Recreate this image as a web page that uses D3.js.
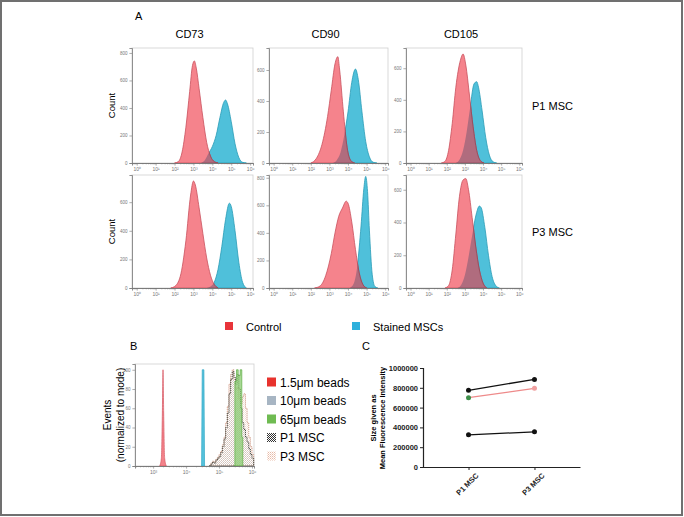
<!DOCTYPE html>
<html>
<head>
<meta charset="utf-8">
<script src="https://cdn.jsdelivr.net/npm/d3@7"></script>
<style>
  body { margin: 0; background: #fff; }
  text { font-family: "Liberation Sans", Arial, sans-serif; }
</style>
</head>
<body>
<div id="mount"></div>
<script>
'use strict';

// ---- data ----
const markers = ['CD73', 'CD90', 'CD105'];
const passages = ['P1 MSC', 'P3 MSC'];
const decadeTicks = [0, 1, 2, 3, 4, 5, 6];
const countTicks = [0, 200, 400, 600, 800];
// top of the count axis for each histogram, rows = passages, cols = markers
const countMax = [[836, 742, 728], [790, 820, 690]];

// [log10 intensity, count]
const cd73P1Control = [[2.0,0],[2.2,10],[2.4,80],[2.6,260],[2.8,520],[2.95,710],[3.05,742],[3.15,690],[3.3,540],[3.5,330],[3.7,150],[3.9,50],[4.1,10],[4.3,0]];
const cd73P1Stained = [[3.4,0],[3.6,20],[3.8,70],[4.0,120],[4.2,200],[4.4,330],[4.6,440],[4.7,458],[4.8,430],[5.0,300],[5.2,140],[5.4,40],[5.6,5],[5.8,0]];
const cd90P1Control = [[2.0,0],[2.3,30],[2.6,120],[2.9,300],[3.1,470],[3.3,640],[3.45,686],[3.55,600],[3.75,330],[3.95,100],[4.15,15],[4.35,0]];
const cd90P1Stained = [[3.2,0],[3.4,20],[3.6,70],[3.8,180],[4.0,330],[4.2,520],[4.4,606],[4.55,540],[4.75,330],[4.95,140],[5.15,40],[5.35,5],[5.55,0]];
const cd105P1Control = [[1.7,0],[1.9,10],[2.1,80],[2.3,250],[2.5,480],[2.75,650],[2.9,690],[3.05,620],[3.25,430],[3.45,230],[3.65,80],[3.85,15],[4.05,0]];
const cd105P1Stained = [[2.5,0],[2.7,20],[2.9,80],[3.1,200],[3.3,360],[3.5,500],[3.65,515],[3.75,480],[3.95,330],[4.15,160],[4.35,50],[4.55,8],[4.75,0]];
const cd73P3Control = [[1.8,0],[2.0,10],[2.3,80],[2.6,330],[2.85,650],[3.0,748],[3.1,720],[3.3,560],[3.5,380],[3.7,210],[3.9,90],[4.1,25],[4.3,0]];
const cd73P3Stained = [[3.7,0],[3.9,10],[4.1,40],[4.3,130],[4.5,290],[4.7,480],[4.9,593],[5.0,570],[5.2,400],[5.4,180],[5.6,40],[5.8,0]];
const cd90P3Control = [[2.2,0],[2.5,15],[2.8,90],[3.1,250],[3.3,400],[3.5,520],[3.7,580],[3.9,630],[4.0,615],[4.2,480],[4.4,280],[4.6,110],[4.8,25],[5.0,0]];
const cd90P3Stained = [[4.1,0],[4.3,30],[4.5,160],[4.7,450],[4.85,720],[4.95,810],[5.05,700],[5.15,420],[5.3,100],[5.45,10],[5.6,0]];
const cd105P3Control = [[1.9,0],[2.1,15],[2.3,110],[2.5,330],[2.7,560],[2.9,660],[3.05,668],[3.2,600],[3.4,430],[3.6,250],[3.8,110],[4.0,30],[4.2,0]];
const cd105P3Stained = [[2.6,0],[2.8,20],[3.0,80],[3.2,190],[3.4,320],[3.6,440],[3.8,500],[3.9,490],[4.1,370],[4.3,200],[4.5,70],[4.7,15],[4.9,0]];

const controls = [[cd73P1Control, cd90P1Control, cd105P1Control], [cd73P3Control, cd90P3Control, cd105P3Control]];
const stained = [[cd73P1Stained, cd90P1Stained, cd105P1Stained], [cd73P3Stained, cd90P3Stained, cd105P3Stained]];

// panel B: [log10 intensity, % of mode]
const beadsTicks = [3, 4, 5, 6];
const eventTicks = [0, 20, 40, 60, 80, 100];
const beads15 = [[3.2,0],[3.25,8],[3.28,55],[3.3,100],[3.32,55],[3.35,8],[3.4,0]];
const beads10 = [[4.47,0],[4.49,100],[4.54,100],[4.56,0]];
const beads65 = [[5.44,0],[5.48,88],[5.53,100],[5.58,94],[5.64,100],[5.69,30],[5.72,0]];
const p1Msc = [[4.7,0],[4.75,2],[4.8,4],[4.85,3],[4.9,6],[4.95,8],[5.0,10],[5.05,14],[5.1,20],[5.15,28],[5.2,40],[5.25,55],[5.3,75],[5.35,90],[5.4,98],[5.45,92],[5.5,85],[5.55,95],[5.6,80],[5.65,60],[5.7,45],[5.75,38],[5.8,30],[5.85,25],[5.9,18],[5.95,12],[6.0,8],[6.05,5]];
const p3Msc = [[4.7,0],[4.75,3],[4.8,5],[4.85,4],[4.9,7],[4.95,9],[5.0,12],[5.05,15],[5.1,22],[5.15,30],[5.2,45],[5.25,62],[5.3,85],[5.35,95],[5.4,100],[5.45,90],[5.5,80],[5.55,82],[5.6,70],[5.65,65],[5.7,72],[5.75,75],[5.8,60],[5.85,45],[5.9,30],[5.95,20],[6.0,12],[6.05,6]];
const beadsLegend = ['1.5\u03bcm beads', '10\u03bcm beads', '65\u03bcm beads', 'P1 MSC', 'P3 MSC'];

// panel C
const mfiCategories = ['P1 MSC', 'P3 MSC'];
const mfiTicks = [0, 200000, 400000, 600000, 800000, 1000000];
const mfiHigh = [775000, 885000];
const mfiMid = [700000, 795000];
const mfiLow = [325000, 355000];

// ---- drawing ----
const sup = ['\u2070', '\u00b9', '\u00b2', '\u00b3', '\u2074', '\u2075', '\u2076'];
const pow = e => Math.pow(10, e);

const svg = d3.select('#mount').append('svg')
    .attr('width', 684)
    .attr('height', 517);

svg.append('rect')
    .attr('x', 1).attr('y', 1).attr('width', 681).attr('height', 514)
    .attr('fill', 'none').attr('stroke', '#707070').attr('stroke-width', 2);

const defs = svg.append('defs');

function styleAxis(a, size) {
  a.select('.domain').attr('stroke', '#777').attr('stroke-width', 0.8);
  a.selectAll('.tick line').attr('stroke', '#777').attr('stroke-width', 0.6);
  a.selectAll('.tick text').attr('fill', '#777').style('font-size', size + 'px');
}

function frame(g, w, h) {
  g.append('rect').attr('width', w).attr('height', h)
      .attr('fill', 'none').attr('stroke', '#cfcfcf').attr('stroke-width', 0.8);
}

// log x axis with decade labels and minor ticks
function logAxis(g, x, h, exps) {
  const [lo, hi] = x.domain();
  const minor = [];
  for (let e = Math.floor(Math.log10(lo)); e <= Math.ceil(Math.log10(hi)); e++) {
    for (let k = 2; k < 10; k++) {
      const v = k * pow(e);
      if (v >= lo && v <= hi) minor.push(v);
    }
  }
  g.append('g')
      .attr('transform', `translate(0,${h})`)
      .call(d3.axisBottom(x).tickValues(minor).tickSize(1.3).tickFormat(''))
      .call(a => styleAxis(a, 5));
  g.append('g')
      .attr('transform', `translate(0,${h})`)
      .call(d3.axisBottom(x).tickValues(exps.map(pow)).tickSize(2.6).tickPadding(1.5)
        .tickFormat(d => '10' + sup[Math.round(Math.log10(d))]))
      .call(a => styleAxis(a, 5));
}

// ---- panel A ----
const colsA = [{ x: 132, w: 121 }, { x: 269, w: 119 }, { x: 406, w: 116 }];
const rowsA = [{ y: 48, h: 115 }, { y: 175, h: 113 }];

svg.append('text').attr('x', 135).attr('y', 20).text('A')
    .style('font-size', '11px');

markers.forEach((m, c) => {
  svg.append('text')
      .attr('x', colsA[c].x + colsA[c].w / 2 - 3)
      .attr('y', 38)
      .attr('text-anchor', 'middle')
      .style('font-size', '11px')
      .text(m);
});

passages.forEach((p, r) => {
  svg.append('text')
      .attr('x', 532)
      .attr('y', rowsA[r].y + rowsA[r].h / 2 + 4)
      .style('font-size', '11px')
      .text(p);
  svg.append('text')
      .attr('transform', `translate(115,${rowsA[r].y + rowsA[r].h / 2}) rotate(-90)`)
      .attr('text-anchor', 'middle')
      .style('font-size', '9.5px')
      .text('Count');
});

let clipId = 0;
passages.forEach((p, r) => {
  markers.forEach((m, c) => {
    const { x: x0, w } = colsA[c];
    const { y: y0, h } = rowsA[r];
    const g = svg.append('g').attr('transform', `translate(${x0},${y0})`);

    const x = d3.scaleLog().domain([pow(-0.25), pow(6.15)]).range([0, w]);
    const y = d3.scaleLinear().domain([0, countMax[r][c]]).range([h, 0]);
    const area = d3.area()
        .x(d => x(pow(d[0])))
        .y0(y(0))
        .y1(d => y(d[1]))
        .curve(d3.curveMonotoneX);

    frame(g, w, h);

    // overlap of control and stained is drawn in a darker mauve
    const id = 'blue' + (clipId++);
    defs.append('clipPath').attr('id', id)
        .append('path').attr('d', area(stained[r][c]))
        .attr('transform', `translate(${x0},${y0})`);

    g.append('path').attr('d', area(stained[r][c]))
        .attr('fill', '#4fc0da').attr('stroke', '#2a9cb6').attr('stroke-width', 0.8);
    g.append('path').attr('d', area(controls[r][c]))
        .attr('fill', '#f5838c').attr('stroke', '#c9515d').attr('stroke-width', 0.8);
    svg.append('g').attr('clip-path', `url(#${id})`)
      .append('path').attr('transform', `translate(${x0},${y0})`)
        .attr('d', area(controls[r][c]))
        .attr('fill', '#b06c7e').attr('stroke', '#8e4a5a').attr('stroke-width', 0.8);

    g.append('g')
        .call(d3.axisLeft(y).tickValues(countTicks.filter(t => t <= countMax[r][c]))
          .tickSize(2.6).tickPadding(2))
        .call(a => styleAxis(a, 4.5));
    logAxis(g, x, h, decadeTicks);
  });
});

// legend for A
const legendA = [{ label: 'Control', color: '#e8343a', x: 225 }, { label: 'Stained MSCs', color: '#2eb0dc', x: 352 }];
legendA.forEach(l => {
  svg.append('rect').attr('x', l.x).attr('y', 322).attr('width', 8).attr('height', 8).attr('fill', l.color);
  svg.append('text').attr('x', l.x + 21).attr('y', 330.5).style('font-size', '11px').text(l.label);
});

// ---- panel B ----
const checker = defs.append('pattern').attr('id', 'checker')
    .attr('width', 2).attr('height', 2).attr('patternUnits', 'userSpaceOnUse');
checker.append('rect').attr('width', 2).attr('height', 2).attr('fill', '#fff');
checker.append('rect').attr('width', 1).attr('height', 1).attr('fill', '#333');
checker.append('rect').attr('x', 1).attr('y', 1).attr('width', 1).attr('height', 1).attr('fill', '#333');

const dots = defs.append('pattern').attr('id', 'dots')
    .attr('width', 2).attr('height', 2).attr('patternUnits', 'userSpaceOnUse');
dots.append('rect').attr('width', 2).attr('height', 2).attr('fill', '#fff');
dots.append('rect').attr('width', 1).attr('height', 1).attr('fill', '#e7b9a6');
dots.append('rect').attr('x', 1).attr('y', 1).attr('width', 1).attr('height', 1).attr('fill', '#f3d8cc');

svg.append('text').attr('x', 130).attr('y', 350).style('font-size', '11px').text('B');

const bx0 = 135, by0 = 364, bw = 119, bh = 102;
const gB = svg.append('g').attr('transform', `translate(${bx0},${by0})`);
const xB = d3.scaleLog().domain([pow(2.45), pow(6.06)]).range([0, bw]);
const yB = d3.scaleLinear().domain([0, 106]).range([bh, 0]);
const areaB = d3.area().x(d => xB(pow(d[0]))).y0(yB(0)).y1(d => yB(d[1]));

frame(gB, bw, bh);

gB.append('path').attr('d', areaB.curve(d3.curveMonotoneX)(beads15))
    .attr('fill', '#f3828a').attr('stroke', '#d65560').attr('stroke-width', 0.7);
gB.append('path').attr('d', areaB.curve(d3.curveLinear)(beads10))
    .attr('fill', '#55c2dc').attr('stroke', '#30a8c6').attr('stroke-width', 0.7);
gB.append('path').attr('d', areaB.curve(d3.curveStepAfter)(p3Msc))
    .attr('fill', 'url(#dots)').attr('fill-opacity', 0.5).attr('stroke', '#d2a08e').attr('stroke-width', 1)
    .attr('stroke-dasharray', '1.2,0.8');
gB.append('path').attr('d', areaB.curve(d3.curveStepAfter)(p1Msc))
    .attr('fill', 'url(#checker)').attr('fill-opacity', 0.15).attr('stroke', '#4a4a40').attr('stroke-width', 1)
    .attr('stroke-dasharray', '1.2,0.8');
gB.append('path').attr('d', areaB.curve(d3.curveStepAfter)(beads65))
    .attr('fill', '#8acb70').attr('fill-opacity', 0.75).attr('stroke', '#5fae45').attr('stroke-width', 0.7);

gB.append('g')
    .call(d3.axisLeft(yB).tickValues(eventTicks).tickSize(2.6).tickPadding(2))
    .call(a => styleAxis(a, 4.5));
logAxis(gB, xB, bh, beadsTicks);

svg.append('text')
    .attr('transform', `translate(111,${by0 + bh / 2}) rotate(-90)`)
    .attr('text-anchor', 'middle').style('font-size', '10px').text('Events');
svg.append('text')
    .attr('transform', `translate(124,${by0 + bh / 2}) rotate(-90)`)
    .attr('text-anchor', 'middle').style('font-size', '10px').text('(normalized to mode)');

const legendFills = ['#e8322d', '#a7b5c3', '#6fbb52', 'url(#checker)', 'url(#dots)'];
const yLegB = d3.scalePoint().domain(beadsLegend).range([382, 456]);
beadsLegend.forEach((l, i) => {
  svg.append('rect').attr('x', 267).attr('y', yLegB(l) - 4.5).attr('width', 9).attr('height', 9)
      .attr('fill', legendFills[i]);
  svg.append('text').attr('x', 280).attr('y', yLegB(l) + 4.5).style('font-size', '12px').text(l);
});

// ---- panel C ----
svg.append('text').attr('x', 362).attr('y', 350).style('font-size', '11px').text('C');

const yC = d3.scaleLinear().domain([0, 1000000]).range([467, 368]);
const xC = d3.scalePoint().domain(mfiCategories).range([423, 580]).padding(0.69);

const axC = svg.append('g').attr('transform', 'translate(423,0)')
    .call(d3.axisLeft(yC).tickValues(mfiTicks).tickSize(3).tickPadding(2).tickFormat(d3.format('d')));
const axCx = svg.append('g').attr('transform', 'translate(0,467)')
    .call(d3.axisBottom(xC).tickSize(3).tickSizeOuter(0));
[axC, axCx].forEach(a => {
  a.select('.domain').attr('stroke', '#222').attr('stroke-width', 1.2);
  a.selectAll('.tick line').attr('stroke', '#222').attr('stroke-width', 1);
  a.selectAll('.tick text').attr('fill', '#222').style('font-size', '7.5px').style('font-weight', 'bold');
});
axCx.selectAll('.tick text')
    .attr('text-anchor', 'end')
    .attr('transform', 'translate(4,3) rotate(-45)')
    .attr('dy', '0.35em');

const lineC = d3.line().x((d, i) => xC(mfiCategories[i])).y(d => yC(d));
const seriesC = [
  { values: mfiHigh, stroke: '#111', dots: ['#111', '#111'] },
  { values: mfiMid, stroke: '#ee8a8a', dots: ['#3e8f4a', '#f0a0a0'] },
  { values: mfiLow, stroke: '#111', dots: ['#111', '#111'] }
];
seriesC.forEach(s => {
  svg.append('path').attr('d', lineC(s.values))
      .attr('fill', 'none').attr('stroke', s.stroke).attr('stroke-width', 1.3);
  s.values.forEach((v, i) => {
    svg.append('circle').attr('cx', xC(mfiCategories[i])).attr('cy', yC(v)).attr('r', 2.5)
        .attr('fill', s.dots[i]);
  });
});

svg.append('text')
    .attr('transform', `translate(376,418) rotate(-90)`)
    .attr('text-anchor', 'middle').style('font-size', '7.5px').style('font-weight', 'bold')
    .text('Size given as');
svg.append('text')
    .attr('transform', `translate(385,418) rotate(-90)`)
    .attr('text-anchor', 'middle').style('font-size', '7.5px').style('font-weight', 'bold')
    .text('Mean Fluorescence Intensity');
</script>
</body>
</html>
